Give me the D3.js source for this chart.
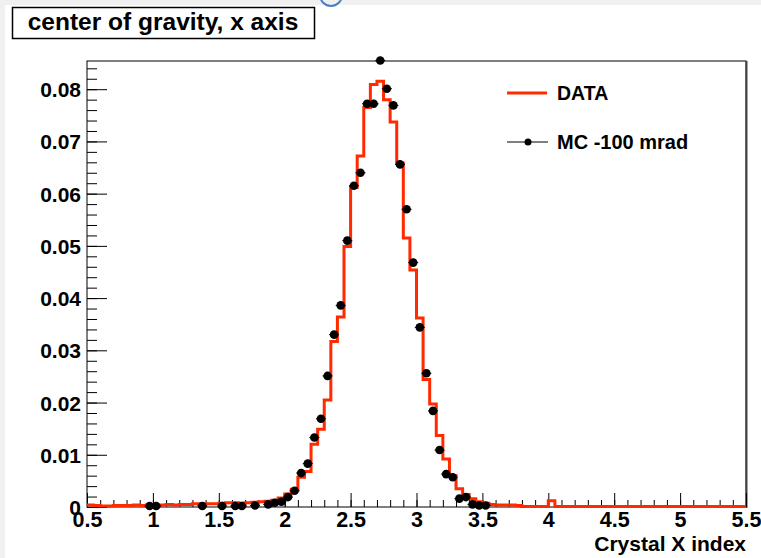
<!DOCTYPE html>
<html>
<head>
<meta charset="utf-8">
<script src="https://cdn.jsdelivr.net/npm/d3@7"></script>
<style>
  html, body { margin: 0; padding: 0; background: #f0f0f0; }
  svg { display: block; }
  text { font-family: "Liberation Sans", Arial, Helvetica, sans-serif; font-weight: bold; fill: #000; }
</style>
</head>
<body>
<div id="chart"></div>
<script>
// histogram binning (0.5 .. 5.5, 100 bins)
var binStart = 0.5, binWidth = 0.05;

// DATA histogram contents, one per bin
var dataValues = [
  0.0004, 0.0003, 0.0002, 0.0002, 0.0003, 0.0003, 0.0003, 0.0004, 0.0003, 0.0004,
  0.0003, 0.0004, 0.0005, 0.0004, 0.0005, 0.0005, 0.0006, 0.0005, 0.0006, 0.0006,
  0.0007, 0.0008, 0.0008, 0.0007, 0.0008, 0.0009, 0.0010, 0.0011, 0.0013, 0.0017,
  0.0025, 0.0034, 0.0057, 0.0068, 0.0120, 0.0149, 0.0205, 0.0317, 0.0364, 0.0499,
  0.0612, 0.0672, 0.0765, 0.0809, 0.0815, 0.0780, 0.0737, 0.0658, 0.0515, 0.0454,
  0.0362, 0.0244, 0.0197, 0.0137, 0.0092, 0.0060, 0.0035, 0.0024, 0.0016, 0.0010,
  0.0007, 0.0005, 0.0004, 0.0004, 0.0004, 0.0003, 0.0001, 0.0001, 0.0001, 0.0001,
  0.0012, 0.0001, 0.0001, 0.0001, 0.0001, 0.0001, 0.0001, 0.0001, 0.0001, 0.0001,
  0.0001, 0.0001, 0.0001, 0.0001, 0.0001, 0.0001, 0.0001, 0.0001, 0.0001, 0.0001,
  0.0001, 0.0001, 0.0001, 0.0001, 0.0001, 0.0001, 0.0001, 0.0001, 0.0001, 0.0001
];

// MC -100 mrad points (bin centres that have entries)
var mcCenters = [0.975, 1.025, 1.375, 1.525, 1.625, 1.675, 1.775, 1.875, 1.925, 1.975,
  2.025, 2.075, 2.125, 2.175, 2.225, 2.275, 2.325, 2.375, 2.425, 2.475,
  2.525, 2.575, 2.625, 2.675, 2.725, 2.775, 2.825, 2.875, 2.925, 2.975,
  3.025, 3.075, 3.125, 3.175, 3.225, 3.275, 3.325, 3.375, 3.425, 3.475, 3.525];
var mcValues = [0.0002, 0.0002, 0.0002, 0.0002, 0.0002, 0.0002, 0.0003, 0.0005, 0.0008, 0.0010,
  0.0019, 0.0031, 0.0065, 0.0083, 0.0133, 0.0169, 0.0251, 0.0330, 0.0386, 0.0510,
  0.0615, 0.0640, 0.0772, 0.0772, 0.0855, 0.0801, 0.0769, 0.0656, 0.0570, 0.0468,
  0.0344, 0.0256, 0.0184, 0.0109, 0.0063, 0.0057, 0.0016, 0.0019, 0.0005, 0.0003, 0.0003];

var xMajor = [0.5, 1, 1.5, 2, 2.5, 3, 3.5, 4, 4.5, 5, 5.5];
var xMajorLabels = ["0.5", "1", "1.5", "2", "2.5", "3", "3.5", "4", "4.5", "5", "5.5"];
var yMajor = [0, 0.01, 0.02, 0.03, 0.04, 0.05, 0.06, 0.07, 0.08];
var yMajorLabels = ["0", "0.01", "0.02", "0.03", "0.04", "0.05", "0.06", "0.07", "0.08"];

var titleText = "center of gravity, x axis";
var xTitle = "Crystal X index";
var legendLabels = ["DATA", "MC -100 mrad"];

var width = 761, height = 558;
var frameL = 87, frameR = 746, frameT = 61, frameB = 507;
var red = "#ff2a00";

var svg = d3.select("#chart").append("svg")
  .attr("width", width)
  .attr("height", height);

// page background (white panel with grey border strip)
svg.append("rect").attr("x", 0).attr("y", 0).attr("width", width).attr("height", height).attr("fill", "#f0f0f0");
svg.append("rect").attr("x", 5).attr("y", 5).attr("width", width - 5).attr("height", height - 5).attr("fill", "#fff");
// bit of the slide heading peeking in at the top
svg.append("path")
  .attr("d", d3.arc()({innerRadius: 10, outerRadius: 12, startAngle: Math.PI / 2, endAngle: Math.PI * 1.5}))
  .attr("transform", "translate(331,-5)")
  .attr("fill", "#4a7fc8");

var x = d3.scaleLinear().domain([0.5, 5.5]).range([frameL, frameR]);
var y = d3.scaleLinear().domain([0, 0.0854]).range([frameB, frameT]);

// frame
svg.append("rect")
  .attr("x", frameL).attr("y", frameT)
  .attr("width", frameR - frameL).attr("height", frameB - frameT)
  .attr("fill", "none").attr("stroke", "#000").attr("stroke-width", 1);
svg.append("line")
  .attr("x1", frameR + 0.5).attr("x2", frameR + 0.5).attr("y1", frameT).attr("y2", frameB + 1)
  .attr("stroke", "#444").attr("stroke-width", 2);

// x axis: minor ticks every 0.1, major every 0.5
var xMinor = [];
for (var i = 0; i <= 50; i++) xMinor.push(0.5 + i * 0.1);
svg.append("g")
  .attr("transform", "translate(0," + frameB + ")")
  .call(d3.axisBottom(x).tickValues(xMinor).tickSize(-7).tickFormat(""))
  .call(function(g) { g.select(".domain").remove(); g.selectAll("line").attr("stroke", "#000"); });
var gx = svg.append("g")
  .attr("transform", "translate(0," + frameB + ")")
  .call(d3.axisBottom(x).tickValues(xMajor).tickSize(-14).tickPadding(0)
    .tickFormat(function(d, i) { return xMajorLabels[i]; }));
gx.select(".domain").remove();
gx.selectAll(".tick text")
  .attr("y", 20).attr("dy", 0)
  .style("font-size", "21.5px")
  .style("font-family", "'Liberation Sans', Arial, sans-serif")
  .style("font-weight", "bold");
gx.selectAll(".tick line").attr("stroke", "#000");

// y axis: minor ticks every 0.002, major every 0.01
var yMinor = [];
for (var j = 0; j <= 42; j++) yMinor.push(j * 0.002);
svg.append("g")
  .attr("transform", "translate(" + frameL + ",0)")
  .call(d3.axisLeft(y).tickValues(yMinor).tickSize(-10).tickFormat(""))
  .call(function(g) { g.select(".domain").remove(); g.selectAll("line").attr("stroke", "#000"); });
var gy = svg.append("g")
  .attr("transform", "translate(" + frameL + ",0)")
  .call(d3.axisLeft(y).tickValues(yMajor).tickSize(-20).tickPadding(6)
    .tickFormat(function(d, i) { return yMajorLabels[i]; }));
gy.select(".domain").remove();
gy.selectAll(".tick line").attr("stroke", "#000");
gy.selectAll(".tick text")
  .attr("x", -6).attr("dy", "0.36em")
  .style("font-size", "21px")
  .style("font-family", "'Liberation Sans', Arial, sans-serif")
  .style("font-weight", "bold");

// DATA histogram as a step line
var steps = dataValues.map(function(v, k) { return [binStart + k * binWidth, v]; });
steps.push([binStart + dataValues.length * binWidth, dataValues[dataValues.length - 1]]);
svg.append("path")
  .datum(steps)
  .attr("fill", "none")
  .attr("stroke", red)
  .attr("stroke-width", 3)
  .attr("d", d3.line()
    .x(function(d) { return x(d[0]); })
    .y(function(d) { return y(d[1]); })
    .curve(d3.curveStepAfter));

// MC points
var mc = mcCenters.map(function(c, k) { return {x: c, v: mcValues[k]}; });
var pts = svg.append("g").selectAll("g").data(mc).join("g")
  .attr("transform", function(d) { return "translate(" + x(d.x) + "," + y(d.v) + ")"; });
pts.append("line").attr("x1", -5).attr("x2", 5).attr("stroke", "#000").attr("stroke-width", 1);
pts.append("circle").attr("r", 4.3).attr("fill", "#000");

// legend
svg.append("line")
  .attr("x1", 507).attr("x2", 547).attr("y1", 93).attr("y2", 93)
  .attr("stroke", red).attr("stroke-width", 3);
svg.append("text").attr("x", 557).attr("y", 100).style("font-size", "19.5px").text(legendLabels[0]);
svg.append("line")
  .attr("x1", 507).attr("x2", 548).attr("y1", 142).attr("y2", 142)
  .attr("stroke", "#000").attr("stroke-width", 1);
svg.append("circle").attr("cx", 528).attr("cy", 142).attr("r", 3.5).attr("fill", "#000");
svg.append("text").attr("x", 557).attr("y", 149).style("font-size", "20px").text(legendLabels[1]);

// x axis title
svg.append("text")
  .attr("x", frameR).attr("y", 551)
  .attr("text-anchor", "end")
  .style("font-size", "21px")
  .text(xTitle);

// title box
svg.append("rect")
  .attr("x", 12.5).attr("y", 7.5).attr("width", 302).attr("height", 31)
  .attr("fill", "#fff").attr("stroke", "#000").attr("stroke-width", 1.5);
svg.append("text")
  .attr("x", 163).attr("y", 30)
  .attr("text-anchor", "middle")
  .style("font-size", "24.5px")
  .text(titleText);
</script>
</body>
</html>
